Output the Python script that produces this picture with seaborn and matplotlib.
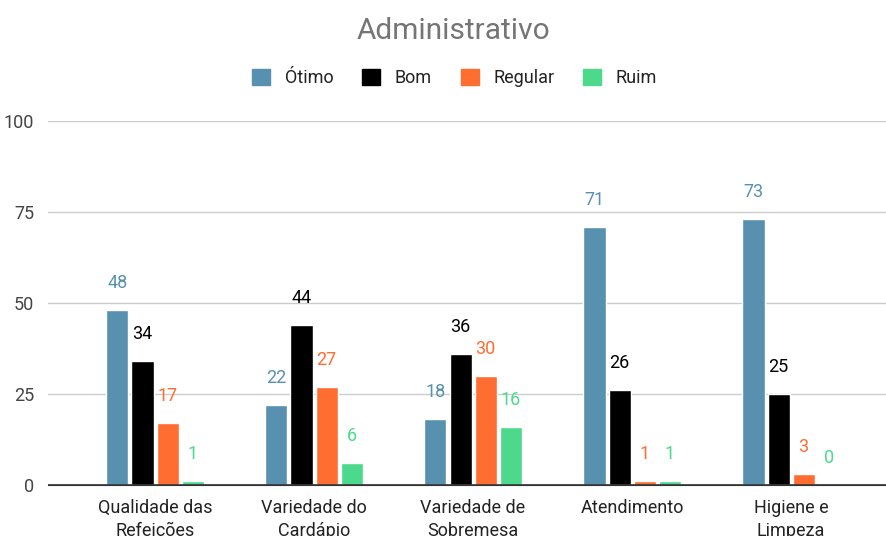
import matplotlib
matplotlib.use("Agg")
import matplotlib.pyplot as plt
import pandas as pd
import seaborn as sns
from matplotlib.patches import Patch

categorias = ["Qualidade das\nRefeições", "Variedade do\nCardápio", "Variedade de\nSobremesa",
              "Atendimento", "Higiene e\nLimpeza"]
series = ["Ótimo", "Bom", "Regular", "Ruim"]
otimo = [48, 22, 18, 71, 73]
bom = [34, 44, 36, 26, 25]
regular = [17, 27, 30, 1, 3]
ruim = [1, 6, 16, 1, 0]

cores = ["#5891AF", "#000000", "#FF6D31", "#4CD98B"]

rows = []
for nome, vals in zip(series, [otimo, bom, regular, ruim]):
    for c, v in zip(categorias, vals):
        rows.append({"categoria": c, "serie": nome, "valor": v})
df = pd.DataFrame(rows)

sns.set_style("white")
plt.rcParams["font.family"] = ["Roboto", "DejaVu Sans"]

fig = plt.figure(figsize=(8.86, 5.36), dpi=100)
ax = fig.add_axes([48 / 886, 51 / 536, 1 - 48 / 886, 364 / 536])

sns.barplot(data=df, x="categoria", y="valor", hue="serie", order=categorias,
            hue_order=series, palette=cores, width=0.63, gap=0.12,
            legend=False, ax=ax, saturation=1)

for cont, cor in zip(ax.containers, cores):
    ax.bar_label(cont, labels=[f"{int(b.get_height())}" for b in cont],
                 padding=13, color=cor, fontsize=13)

ax.set_ylim(0, 100)
ax.set_yticks([0, 25, 50, 75, 100])
ax.set_xlim(-0.673, 4.597)
ax.yaxis.grid(True, color="#cccccc", linewidth=1)
ax.set_axisbelow(True)
for s in ["top", "right", "left"]:
    ax.spines[s].set_visible(False)
ax.spines["bottom"].set_color("#333333")
ax.axhline(0, color="#333333", linewidth=1.2, zorder=3)
ax.tick_params(axis="y", length=0, labelsize=13, labelcolor="#444444", pad=10)
ax.tick_params(axis="x", length=0, labelsize=13, labelcolor="#222222", pad=10)
for t in ax.get_xticklabels():
    t.set_linespacing(1.35)
ax.set_xlabel("")
ax.set_ylabel("")

fig.text(453 / 886, 1 - 31 / 536, "Administrativo", ha="center", va="center",
         fontsize=21.5, color="#757575")

handles = [Patch(facecolor=c, edgecolor=c, label=n) for c, n in zip(cores, series)]
fig.legend(handles=handles, loc="center", bbox_to_anchor=(0.513, 1 - 78 / 536),
           ncol=4, frameon=False, fontsize=13, handlelength=1, handleheight=1,
           columnspacing=1.6, handletextpad=0.8, labelcolor="#222222")

fig.savefig("out.png", dpi=100)
